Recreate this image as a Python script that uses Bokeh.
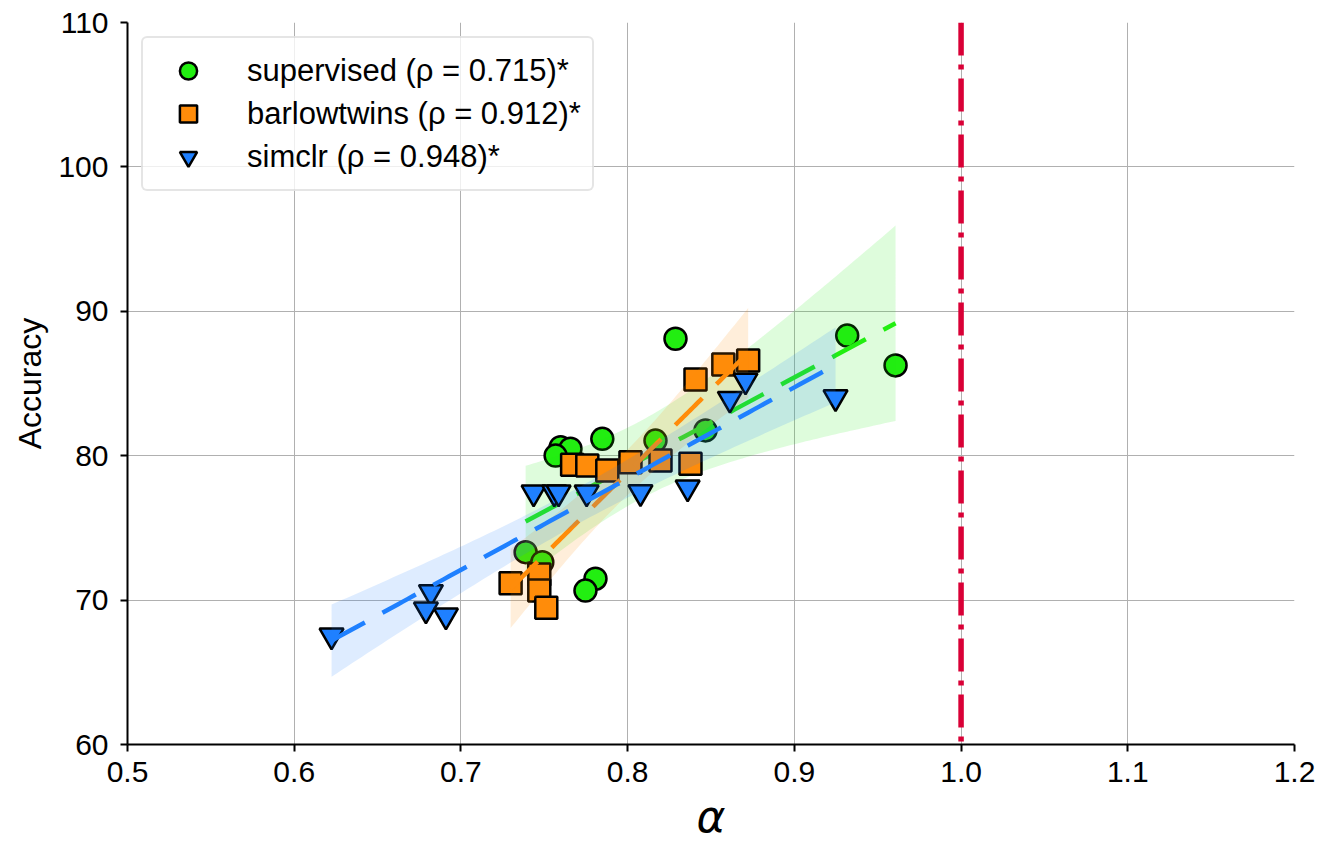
import numpy as np
from bokeh.plotting import figure
from bokeh.models import Range1d, FixedTicker, Span, Legend, LegendItem
from bokeh.embed import file_html
from bokeh.resources import INLINE

# ---- data ----
sup_alpha = [0.7598, 0.7657, 0.7568, 0.7848, 0.8167, 0.8467, 0.7388, 0.7488,
             0.7807, 0.7747, 0.8287, 0.9317, 0.9607]
sup_acc = [80.59, 80.48, 80.01, 81.17, 81.05, 81.75, 73.32, 72.62,
           71.48, 70.66, 88.10, 88.32, 86.25]

bt_alpha = [0.7298, 0.7470, 0.7470, 0.7512, 0.7667, 0.7758, 0.7878, 0.8017,
            0.8197, 0.8377, 0.8407, 0.8574, 0.8723]
bt_acc = [71.17, 71.77, 70.66, 69.47, 79.37, 79.32, 78.97, 79.55,
          79.67, 79.44, 85.28, 86.32, 86.59]

sim_alpha = [0.6224, 0.6820, 0.6790, 0.6910, 0.7436, 0.7560, 0.7586, 0.7754,
             0.8077, 0.8360, 0.8613, 0.8707, 0.9247]
sim_acc = [67.55, 70.55, 69.35, 68.93, 77.45, 77.45, 77.45, 77.45,
           77.47, 77.80, 83.94, 85.20, 84.05]

series_labels = ["supervised (ρ = 0.715)*", "barlowtwins (ρ = 0.912)*", "simclr (ρ = 0.948)*"]
series_colors = ["#22ee11", "#ff8c0a", "#1f80ff"]
series_markers = ["circle", "square", "inverted_triangle"]
series_sizes = [22, 22, 24]

x_ticks = [0.5, 0.6, 0.7, 0.8, 0.9, 1.0, 1.1, 1.2]
x_tick_labels = ["0.5", "0.6", "0.7", "0.8", "0.9", "1.0", "1.1", "1.2"]
y_ticks = [60, 70, 80, 90, 100, 110]
threshold = 1.0

FONT = "Liberation Sans"


def fit_band(x, y, t=2.201, n_grid=100):
    x = np.asarray(x, dtype=float)
    y = np.asarray(y, dtype=float)
    b, a = np.polyfit(x, y, 1)
    xs = np.linspace(x.min(), x.max(), n_grid)
    yhat = a + b * xs
    resid = y - (a + b * x)
    n = len(x)
    s = np.sqrt(np.sum(resid ** 2) / (n - 2))
    sxx = np.sum((x - x.mean()) ** 2)
    se = s * np.sqrt(1.0 / n + (xs - x.mean()) ** 2 / sxx)
    return xs, yhat, yhat - t * se, yhat + t * se


p = figure(
    output_backend="svg", toolbar_location=None,
    frame_width=1167, frame_height=722,
    min_border_left=127, min_border_right=27, min_border_top=22, min_border_bottom=97,
    x_range=Range1d(0.5, 1.2), y_range=Range1d(60, 110),
)
p.outline_line_color = None
p.background_fill_color = "white"

for ax in (p.xaxis[0], p.yaxis[0]):
    ax.axis_line_color = "black"
    ax.axis_line_width = 2
    ax.major_tick_line_color = "black"
    ax.major_tick_line_width = 2
    ax.major_tick_out = 7
    ax.major_tick_in = 0
    ax.minor_tick_line_color = None
    ax.major_label_text_font = FONT
    ax.major_label_text_font_size = "30px"
    ax.major_label_text_color = "black"
    ax.axis_label_text_color = "black"

p.xaxis[0].ticker = FixedTicker(ticks=x_ticks)
p.xaxis[0].major_label_overrides = {t: l for t, l in zip(x_ticks, x_tick_labels)}
p.yaxis[0].ticker = FixedTicker(ticks=y_ticks)
p.xaxis[0].major_label_standoff = 10
p.yaxis[0].major_label_standoff = 12

p.xaxis[0].axis_label = "α"
p.xaxis[0].axis_label_text_font = "DejaVu Sans"
p.xaxis[0].axis_label_text_font_style = "italic"
p.xaxis[0].axis_label_text_font_size = "44px"
p.xaxis[0].axis_label_standoff = 6

p.yaxis[0].axis_label = "Accuracy"
p.yaxis[0].axis_label_text_font = FONT
p.yaxis[0].axis_label_text_font_style = "normal"
p.yaxis[0].axis_label_text_font_size = "32px"
p.yaxis[0].axis_label_standoff = 7

p.xgrid.ticker = FixedTicker(ticks=x_ticks)
p.ygrid.ticker = FixedTicker(ticks=y_ticks)
for g in (p.xgrid[0], p.ygrid[0]):
    g.grid_line_color = "#b0b0b0"
    g.grid_line_width = 1

items = []
for xa, ya, lab, col, mk, sz in zip([sup_alpha, bt_alpha, sim_alpha], [sup_acc, bt_acc, sim_acc],
                                    series_labels, series_colors, series_markers, series_sizes):
    r = p.scatter(xa, ya, marker=mk, size=sz, fill_color=col, line_color="black",
                  line_width=2.5)
    xs, yhat, lo, hi = fit_band(xa, ya)
    p.varea(x=xs, y1=lo, y2=hi, fill_color=col, fill_alpha=0.15)
    p.line(xs, yhat, line_color=col, line_width=4.5, line_dash="38 20")
    items.append(LegendItem(label=lab, renderers=[r]))

p.add_layout(Span(location=threshold, dimension="height", line_color="#d90036",
                  line_width=5.5, line_dash="33 9 5 9"))

legend = Legend(items=items, location="top_left", glyph_height=43, glyph_width=68,
                spacing=0, padding=11, margin=14, label_standoff=25,
                label_text_font=FONT, label_text_font_size="31px",
                label_text_color="black",
                border_line_color="#cccccc", border_line_width=2,
                background_fill_color="white", background_fill_alpha=0.8)
if "border_radius" in Legend.properties():
    legend.border_radius = 6
p.add_layout(legend)

open("out.html", "w").write(file_html(p, INLINE))
